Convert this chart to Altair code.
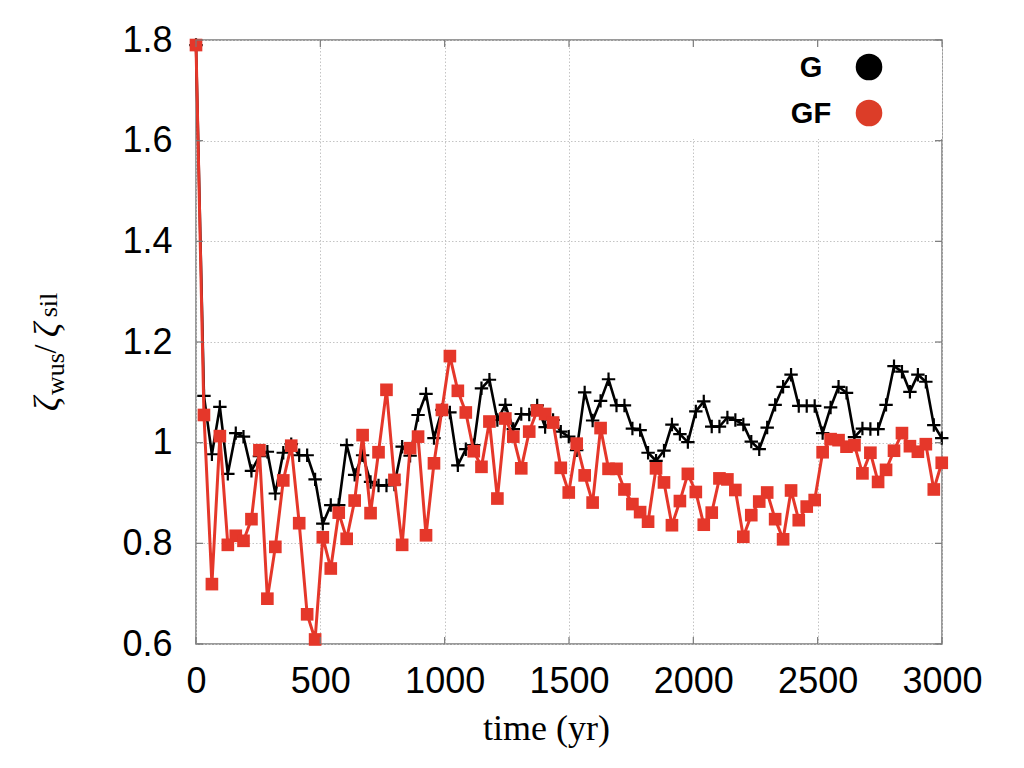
import altair as alt
import pandas as pd

# ---- data ----
T = [0, 32, 64, 96, 128, 160, 191, 223, 255, 287,
     319, 351, 383, 415, 447, 479, 510, 542, 574, 606,
     638, 670, 702, 734, 766, 798, 829, 861, 893, 925,
     957, 989, 1021, 1053, 1085, 1117, 1148, 1180, 1212, 1244,
     1276, 1308, 1340, 1372, 1404, 1436, 1467, 1499, 1531, 1563,
     1595, 1627, 1659, 1691, 1723, 1755, 1786, 1818, 1850, 1882,
     1914, 1946, 1978, 2010, 2042, 2074, 2105, 2137, 2169, 2201,
     2233, 2265, 2297, 2329, 2361, 2393, 2424, 2456, 2488, 2520,
     2552, 2584, 2616, 2648, 2680, 2712, 2743, 2775, 2807, 2839,
     2871, 2903, 2935, 2967, 2999]

G = [1.79, 1.093, 0.977, 1.071, 0.938, 1.019, 1.012, 0.944, 0.973, 0.982,
     0.899, 0.980, 0.997, 0.975, 0.975, 0.927, 0.839, 0.876, 0.876, 0.995,
     0.936, 0.975, 0.922, 0.915, 0.915, 0.917, 0.992, 0.974, 1.055, 1.097,
     1.009, 1.065, 1.060, 0.955, 0.987, 0.995, 1.108, 1.125, 1.045, 1.075,
     1.027, 1.057, 1.056, 1.074, 1.031, 1.045, 1.022, 1.012, 0.985, 1.100,
     1.044, 1.083, 1.126, 1.074, 1.074, 1.028, 1.025, 0.980, 0.964, 0.984,
     1.036, 1.017, 1.001, 1.062, 1.082, 1.032, 1.032, 1.050, 1.045, 1.036,
     1.002, 0.987, 1.030, 1.075, 1.111, 1.135, 1.073, 1.073, 1.073, 1.019,
     1.070, 1.111, 1.099, 1.011, 1.028, 1.027, 1.027, 1.075, 1.152, 1.141,
     1.101, 1.135, 1.121, 1.035, 1.009]

GF = [1.79, 1.055, 0.719, 1.013, 0.797, 0.815, 0.805, 0.848, 0.985, 0.690,
      0.793, 0.925, 0.994, 0.840, 0.659, 0.609, 0.812, 0.750, 0.861, 0.809,
      0.885, 1.015, 0.860, 0.981, 1.105, 0.926, 0.797, 0.989, 1.012, 0.816,
      0.959, 1.065, 1.172, 1.103, 1.060, 0.983, 0.952, 1.042, 0.889, 1.048,
      1.012, 0.949, 1.022, 1.064, 1.057, 1.040, 0.950, 0.901, 0.998, 0.935,
      0.881, 1.029, 0.948, 0.948, 0.907, 0.878, 0.862, 0.843, 0.949, 0.921,
      0.836, 0.884, 0.938, 0.902, 0.837, 0.861, 0.929, 0.927, 0.906, 0.813,
      0.856, 0.883, 0.901, 0.848, 0.808, 0.905, 0.846, 0.873, 0.886, 0.981,
      1.007, 1.005, 0.992, 0.995, 0.939, 0.980, 0.922, 0.946, 0.984, 1.019,
      0.993, 0.982, 0.997, 0.907, 0.960]

SERIES = ["G", "GF"]
X_TICKS = [0, 500, 1000, 1500, 2000, 2500, 3000]
Y_TICKS = [0.6, 0.8, 1.0, 1.2, 1.4, 1.6, 1.8]
X_TITLE = "time (yr)"
# y title pieces: ζ_wus / ζ_sil
Y_TITLE_PARTS = ["ζ", "wus", "/", "ζ", "sil"]

RED = "#e5372a"
LEG_RED = "#dc3d28"
FRAME = "#7a7a7a"
W, H = 746, 604

df = pd.DataFrame({
    "t": T + T,
    "v": G + GF,
    "series": ["G"] * len(T) + ["GF"] * len(T),
})

xs = alt.Scale(domain=[0, 3000], nice=False, zero=False)
ys = alt.Scale(domain=[0.6, 1.8], nice=False, zero=False)

xaxis = alt.Axis(values=X_TICKS, format="d", title=X_TITLE, labelPadding=20,
                 labelOverlap=False, labelFlush=False,
                 titleX=350, titleY=95, titleBaseline="alphabetic", titleAlign="center")
yaxis = alt.Axis(values=Y_TICKS, format=".1~f", title=None, labelPadding=24,
                 labelOverlap=False, labelFlush=False)

X = alt.X("t:Q", scale=xs, axis=xaxis)
Y = alt.Y("v:Q", scale=ys, axis=yaxis)

base = alt.Chart(df)
one = pd.DataFrame({"k": [0]})

legend_bg = alt.Chart(one).mark_rect(color="white").encode(
    x=alt.value(469), x2=alt.value(W), y=alt.value(1), y2=alt.value(99)
)

g_line = base.transform_filter(alt.datum.series == "G").mark_line(
    color="black", strokeWidth=2.6).encode(x=X, y=Y)
g_pts = base.transform_filter(alt.datum.series == "G").mark_point(
    shape="M-1,0L1,0M0,-1L0,1", size=180, filled=False, color="black",
    strokeWidth=2.2, opacity=1).encode(x=X, y=Y)
r_line = base.transform_filter(alt.datum.series == "GF").mark_line(
    color=RED, strokeWidth=3).encode(x=X, y=Y)
r_pts = base.transform_filter(alt.datum.series == "GF").mark_square(
    size=160, color=RED, opacity=1).encode(x=X, y=Y)

# ---- legend (label left of a filled circle, as in the reference) ----
leg_df = pd.DataFrame({"series": SERIES})
leg_colors = {"G": "black", "GF": LEG_RED}
leg_rows = {"G": 27, "GF": 73}
legend_layers = []
for s in SERIES:
    sub = alt.Chart(leg_df).transform_filter(alt.datum.series == s)
    legend_layers.append(sub.mark_circle(size=707, color=leg_colors[s], opacity=1).encode(
        x=alt.value(673), y=alt.value(leg_rows[s])))
    legend_layers.append(sub.mark_text(
        font="Liberation Sans", fontSize=29, fontWeight="bold", color="black",
        align="center", baseline="middle").encode(
        text="series:N", x=alt.value(615), y=alt.value(leg_rows[s] + 1)))

# ---- y title with subscripts ----
ttl_df = pd.DataFrame({"part": Y_TITLE_PARTS, "i": list(range(len(Y_TITLE_PARTS)))})
ttl_pos = [(-137, 364, 36, "italic"), (-132, 334, 26, "normal"),
           (-140, 309, 32, "normal"), (-137, 290, 36, "italic"),
           (-139, 265, 26, "normal")]
title_layers = []
for i, (px, py, fs, st) in enumerate(ttl_pos):
    title_layers.append(
        alt.Chart(ttl_df).transform_filter(alt.datum.i == i).mark_text(
            font="Liberation Serif", fontSize=fs, fontStyle=st, color="black",
            angle=270, align="center", baseline="alphabetic").encode(
            text="part:N", x=alt.value(px), y=alt.value(py)))

# ---- inward ticks on all four sides ----
xt = pd.DataFrame({"t": X_TICKS})
yt = pd.DataFrame({"v": Y_TICKS})
tick_b = alt.Chart(xt).mark_rule(color=FRAME, strokeWidth=1.2).encode(
    x=X, y=alt.value(H), y2=alt.value(H - 7))
tick_t = alt.Chart(xt).mark_rule(color=FRAME, strokeWidth=1.2).encode(
    x=X, y=alt.value(0), y2=alt.value(7))
tick_l = alt.Chart(yt).mark_rule(color=FRAME, strokeWidth=1.2).encode(
    y=Y, x=alt.value(0), x2=alt.value(7))
tick_r = alt.Chart(yt).mark_rule(color=FRAME, strokeWidth=1.2).encode(
    y=Y, x=alt.value(W), x2=alt.value(W - 7))

chart = alt.layer(
    legend_bg, g_line, g_pts, r_line, r_pts,
    tick_b, tick_t, tick_l, tick_r,
    *legend_layers, *title_layers,
).properties(
    width=W, height=H,
    autosize=alt.AutoSizeParams(type="none"),
    padding={"left": 188, "top": 32, "right": 74, "bottom": 116},
).configure_view(
    stroke=FRAME, strokeWidth=1.5,
).configure_axis(
    labelFont="Liberation Sans", labelFontSize=36, labelColor="black",
    domain=False, ticks=False,
    grid=True, gridColor="#c4c4c4", gridDash=[1.5, 2], gridWidth=1,
    titleFont="Liberation Serif", titleFontSize=36, titleFontWeight="normal",
    titleColor="black",
)

chart.save("out.html", embed_options={"renderer": "svg", "actions": False})
